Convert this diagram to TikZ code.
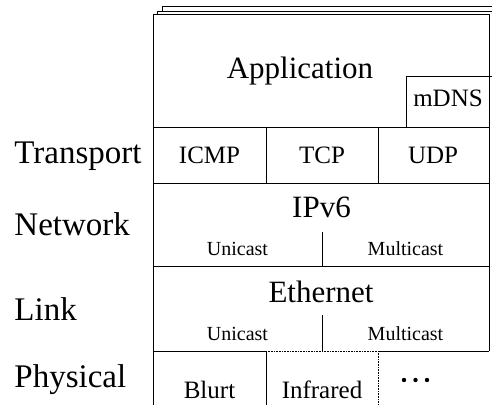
\documentclass[tikz,border=0pt]{standalone}
\usepackage{fontspec}
\setmainfont{Liberation Serif}
\begin{document}
\begin{tikzpicture}[x=1pt,y=-1pt,line join=round,line width=0.9pt,
	big/.style={font=\fontsize{31}{31}\selectfont,inner sep=0,anchor=base},
	mid/.style={font=\fontsize{25}{25}\selectfont,inner sep=0,anchor=base},
	small/.style={font=\fontsize{20}{20}\selectfont,inner sep=0,anchor=base},
	layer/.style={font=\fontsize{33}{33}\selectfont,inner sep=0,anchor=base west}]
	
	\useasboundingbox (0,0) rectangle (492,404);
	\clip (0,0) rectangle (492,404);
	% pages behind
	\draw (162,11) -- (162,6) -- (500,6);
	\draw (157,14) -- (157,11) -- (500,11);
	% stack frame
	\draw (153,410) -- (153,14) -- (489,14) -- (489,351);
	\foreach \y in {127,183,266}
	{
		\draw (153,\y) -- (489,\y);
	}
	\draw (153,351) -- (266,351);
	\draw (378,351) -- (489,351);
	\draw (406,127) -- (406,76) -- (495,76);
	\foreach \x in {266,378}
	{
		\draw (\x,127) -- (\x,183);
	}
	\draw (322,232) -- (322,266);
	\draw (322,315) -- (322,351);
	\draw (266,351) -- (266,410);
	\draw[densely dotted,line width=0.6pt] (266,351) -- (378,351) -- (378,410);
	
	% layer names
	\node[layer] (transport) at (14,163) {Transport};
	\node[layer] (network) at (14,235) {Network};
	\node[layer] (link) at (14,320) {Link};
	\node[layer] (physical) at (14,387) {Physical};
	
	% boxes
	\node[big] (app) at (300,78) {Application};
	\node[mid] (mdns) at (448,106) {mDNS};
	\node[mid] (icmp) at (209.5,163) {ICMP};
	\node[mid] (tcp) at (322,163) {TCP};
	\node[mid] (udp) at (433,163) {UDP};
	\node[big] (ipv6) at (321.5,217) {IPv6};
	\node[small] (ipuni) at (237.5,255) {Unicast};
	\node[small] (ipmulti) at (405.5,255) {Multicast};
	\node[big] (eth) at (321,302) {Ethernet};
	\node[small] (ethuni) at (237.5,340) {Unicast};
	\node[small] (ethmulti) at (405.5,340) {Multicast};
	\node[mid] (blurt) at (209.5,398) {Blurt};
	\node[mid] (ir) at (322,398) {Infrared};
	% more media
	\foreach \x in {404,415.5,427}
	{
		\fill (\x,380) circle (2.2pt);
	}
\end{tikzpicture}
\end{document}
